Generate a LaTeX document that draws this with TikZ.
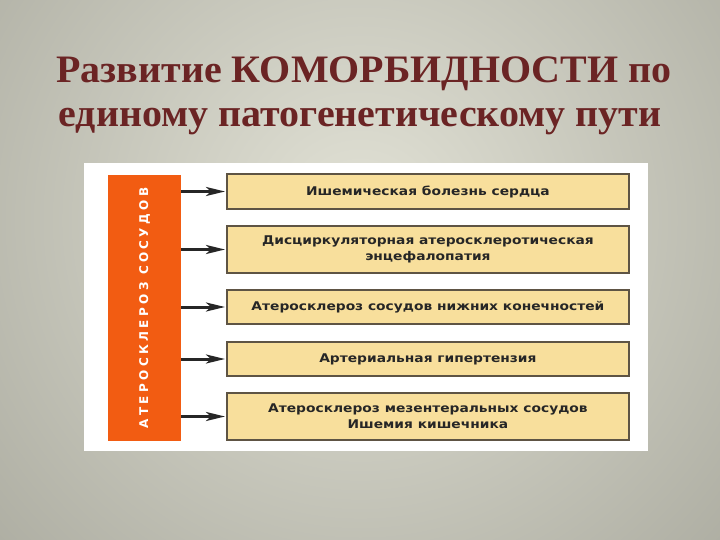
\documentclass[tikz,border=0pt]{standalone}
\usepackage{fontspec}
\setmainfont{Liberation Serif}
\newfontfamily\boxfont[FakeStretch=1.15]{DejaVu Sans}
\newfontfamily\barfont[LetterSpace=28]{DejaVu Sans}
\definecolor{bgin}{HTML}{E2E2D6}
\definecolor{bgout}{HTML}{85857A}
\definecolor{titlered}{HTML}{6B2424}
\definecolor{barorange}{HTML}{F25C12}
\definecolor{boxfill}{HTML}{F8DF9C}
\definecolor{boxline}{HTML}{5E5444}
\usetikzlibrary{arrows.meta}
\tikzset{
  itembox/.style={draw=boxline, line width=1.8pt, fill=boxfill, minimum width=402pt, anchor=west,
    inner sep=0pt, align=center, font=\boxfont\bfseries\fontsize{12}{16}\selectfont, text=black!85},
  arr/.style={-{Stealth[length=19pt,width=9pt,inset=5pt]}, line width=3pt, black!85, shorten >=1pt},
  title/.style={text=titlered, anchor=base, inner sep=0pt, font=\bfseries\fontsize{36}{40}\selectfont}
}
\begin{document}
\begin{tikzpicture}[x=1pt,y=-1pt]
\useasboundingbox (0,0) rectangle (720,540);
\begin{scope}
\clip (0,0) rectangle (720,540);
\fill[bgout] (0,0) rectangle (720,540);
\shade[inner color=bgin, outer color=bgout] (360,220) circle (880);
\end{scope}
\node[title] (t1) at (364,83) {\scalebox{1.11}[1.08]{Развитие КОМОРБИДНОСТИ по}};
\node[title] (t2) at (360,127) {\scalebox{1.11}[1.08]{единому патогенетическому пути}};
\node[fill=white, minimum width=564pt, minimum height=288pt, inner sep=0pt, anchor=north west] (panel) at (84,163) {};
\node[fill=barorange, minimum width=73pt, minimum height=266pt, inner sep=0pt, anchor=north west] (bar) at (108,175) {};
\node[rotate=90, text=white, font=\barfont\bfseries\fontsize{12}{13}\selectfont] (bartext) at (144.5,308) {АТЕРОСКЛЕРОЗ СОСУДОВ};
\node[itembox, minimum height=35pt] (b1) at (226,191.5) {Ишемическая болезнь сердца};
\node[itembox, minimum height=47pt] (b2) at (226,249.5) {Дисциркуляторная атеросклеротическая\\энцефалопатия};
\node[itembox, minimum height=34pt] (b3) at (226,307) {Атеросклероз сосудов нижних конечностей};
\node[itembox, minimum height=34pt] (b4) at (226,359) {Артериальная гипертензия};
\node[itembox, minimum height=47pt] (b5) at (226,416.5) {Атеросклероз мезентеральных сосудов\\Ишемия кишечника};
\foreach \b in {b1,b2,b3,b4,b5}
  \draw[arr] (bar.east |- \b.west) -- (\b.west);
\end{tikzpicture}
\end{document}
